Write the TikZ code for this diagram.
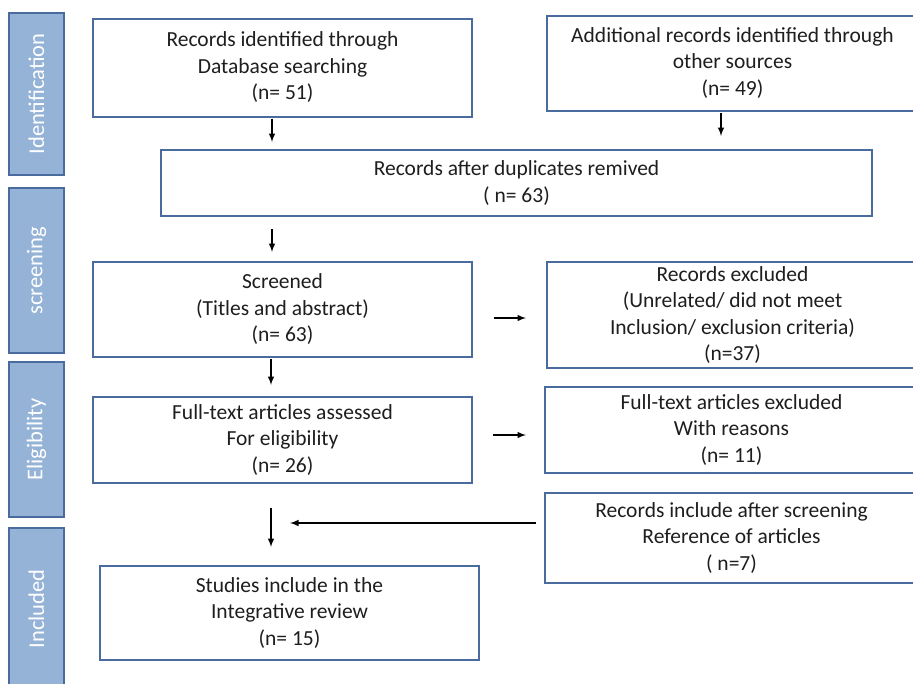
\documentclass[tikz,border=0pt]{standalone}
\usepackage{fontspec}
\setmainfont{Carlito}
\usetikzlibrary{arrows}

\definecolor{boxline}{HTML}{4A6B9E}
\definecolor{barfill}{HTML}{95B3D7}
\definecolor{txt}{HTML}{1E1E1E}

\begin{document}
\begin{tikzpicture}[x=1pt,y=-1pt,
	box/.style={draw=boxline, line width=2pt, fill=white, align=center, text=txt,
		font=\fontsize{21.5}{26.5}\selectfont, inner sep=0pt},
	bar/.style={draw=boxline, line width=2.4pt, fill=barfill, rotate=90, text=white,
		font=\fontsize{22.5}{26}\selectfont, minimum height=55pt, inner sep=0pt},
	arr/.style={-latex, line width=1.9pt, black}]
	\useasboundingbox (0,0) rectangle (913,683);
	% phase bars
	\node[bar, minimum width=162pt] (phid) at (36.5,94) {Identification};
	\node[bar, minimum width=165pt] (phsc) at (36.5,270.5) {screening};
	\node[bar, minimum width=155pt] (phel) at (36.5,439.5) {Eligibility};
	\node[bar, minimum width=162pt] (phin) at (36.5,609) {Included};
	% boxes
	\node[box, minimum width=379pt, minimum height=98pt] (dbase) at (282.5,67.5) {Records identified through\\Database searching\\(n= 51)};
	\node[box, minimum width=371pt, minimum height=95pt] (other) at (732.5,63) {Additional records identified through\\other sources\\(n= 49)};
	\node[box, minimum width=711pt, minimum height=66pt] (dedup) at (516.5,183) {Records after duplicates remived\\( n= 63)};
	\node[box, minimum width=379pt, minimum height=95pt] (screen) at (282.5,309.5) {Screened\\(Titles and abstract)\\(n= 63)};
	\node[box, minimum width=371pt, minimum height=106pt] (excl) at (732.5,315) {Records excluded\\(Unrelated/ did not meet\\Inclusion/ exclusion criteria)\\(n=37)};
	\node[box, minimum width=379pt, minimum height=86pt] (full) at (282.5,440) {Full-text articles assessed\\For eligibility\\(n= 26)};
	\node[box, minimum width=373pt, minimum height=86pt] (fexcl) at (731.5,430) {Full-text articles excluded\\With reasons\\(n= 11)};
	\node[box, minimum width=373pt, minimum height=90pt] (later) at (731.5,538) {Records include after screening\\Reference of articles\\( n=7)};
	\node[box, minimum width=379pt, minimum height=94pt] (incl) at (289.5,613) {Studies include in the\\Integrative review\\(n= 15)};
	\coordinate (merge) at (290,523);
	% arrows
	\draw[arr, shorten <=1pt, shorten >=7pt] ([xshift=-10.5pt]dbase.south) -- ([xshift=-10.5pt]dbase.south |- dedup.north);
	\draw[arr, shorten <=1pt, shorten >=13pt] ([xshift=-11.5pt]other.south) -- ([xshift=-11.5pt]other.south |- dedup.north);
	\draw[arr, shorten <=12pt, shorten >=9pt] ([xshift=-10.5pt]screen.north |- dedup.south) -- ([xshift=-10.5pt]screen.north);
	\draw[arr, shorten <=1pt, shorten >=11pt] ([xshift=-11.5pt]screen.south) -- ([xshift=-11.5pt]screen.south |- full.north);
	\draw[arr, shorten <=21pt, shorten >=20pt] ([yshift=-8.5pt]screen.east) -- ([yshift=-8.5pt]screen.east -| excl.west);
	\draw[arr, shorten <=20pt, shorten >=18pt] ([yshift=5pt]full.east) -- ([yshift=5pt]full.east -| fexcl.west);
	\draw[arr, shorten <=24pt, shorten >=18pt] ([xshift=-11.5pt]full.south) -- ([xshift=-11.5pt]full.south |- incl.north);
	\draw[arr, shorten <=8pt] ([yshift=15pt]later.west) -- (merge);
\end{tikzpicture}
\end{document}
